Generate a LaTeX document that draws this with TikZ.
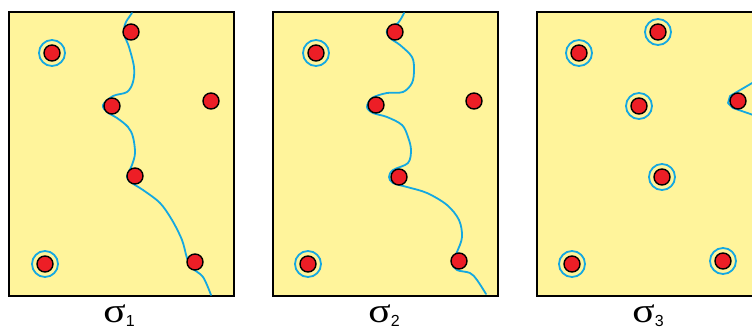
\documentclass[tikz,border=0pt]{standalone}
\usepackage{fontspec}
\setmainfont{Liberation Serif}
\newfontfamily\subfont{Liberation Sans}
\definecolor{panelfill}{RGB}{255,244,155}
\definecolor{dotred}{RGB}{237,30,38}
\definecolor{linecyan}{RGB}{20,168,225}
\tikzset{
  panel/.style={draw=black, line width=2pt, fill=panelfill},
  dot/.style={circle, minimum size=16pt, inner sep=0pt, fill=dotred, draw=black, line width=1.4pt},
  ring/.style={circle, minimum size=26pt, inner sep=0pt, draw=linecyan, line width=1.8pt},
  cut/.style={draw=linecyan, line width=1.8pt, line join=round, line cap=round},
  lab/.style={anchor=base, inner sep=0pt, font=\fontsize{32}{32}\selectfont}
}
\newcommand{\sig}[1]{\scalebox{1.3}[1.08]{σ}\raisebox{-4pt}{\subfont\fontsize{16}{16}\selectfont #1}}
\begin{document}
\begin{tikzpicture}[x=1pt,y=-1pt]
\useasboundingbox (0,0) rectangle (752,331);
\clip (0,0) rectangle (752,331);
% ---------- panel 1 ----------
\begin{scope}[xshift=9pt]
\draw[panel] (0,12) rectangle (225,296);
\draw[cut] plot[smooth, tension=0.55] coordinates {(123,13) (117,22) (115,29) (116,37) (120,47) (125,67) (124,82) (118,92) (104,96) (94,105) (98,112) (108,118) (119,127) (124,137) (126,153) (123,165) (118,177) (123,183) (134,190) (151,203) (163,220) (173,240) (178,258) (183,268) (194,277) (202,295)};
\node[dot] (p1a) at (43,53) {};
\node[dot] (p1b) at (122,32) {};
\node[dot] (p1c) at (103,106) {};
\node[dot] (p1d) at (202,101) {};
\node[dot] (p1e) at (126,176) {};
\node[dot] (p1f) at (36,264) {};
\node[dot] (p1g) at (186,262) {};
\node[ring] (r1a) at (p1a) {};
\node[ring] (r1f) at (p1f) {};
\node[lab] (l1) at (110,322) {\sig{1}};
\end{scope}
% ---------- panel 2 ----------
\begin{scope}[xshift=273pt]
\draw[panel] (0,12) rectangle (225,296);
\draw[cut] plot[smooth, tension=0.55] coordinates {(131,13) (125,23) (114,30) (117,38) (127,45) (139,57) (141,70) (139,83) (130,92) (114,93) (99,98) (94,107) (100,113) (114,117) (129,125) (135,137) (138,150) (135,163) (120,170) (116,177) (120,183) (134,187) (154,193) (174,205) (186,220) (189,237) (184,252) (179,263) (184,270) (197,273) (204,280) (213,294)};
\node[dot] (p2a) at (43,53) {};
\node[dot] (p2b) at (122,32) {};
\node[dot] (p2c) at (103,105) {};
\node[dot] (p2d) at (201,101) {};
\node[dot] (p2e) at (126,177) {};
\node[dot] (p2f) at (35,264) {};
\node[dot] (p2g) at (186,261) {};
\node[ring] (r2a) at (p2a) {};
\node[ring] (r2f) at (p2f) {};
\node[lab] (l2) at (111,322) {\sig{2}};
\end{scope}
% ---------- panel 3 ----------
\begin{scope}[xshift=537pt]
\draw[panel] (0,12) rectangle (225,296);
\draw[cut] (222,79) -- (193,96) -- (191,103) -- (196,108) -- (222,117);
\node[dot] (p3a) at (42,53) {};
\node[dot] (p3b) at (121,32) {};
\node[dot] (p3c) at (102,106) {};
\node[dot] (p3d) at (201,101) {};
\node[dot] (p3e) at (125,177) {};
\node[dot] (p3f) at (35,264) {};
\node[dot] (p3g) at (186,261) {};
\node[ring] (r3a) at (p3a) {};
\node[ring] (r3b) at (p3b) {};
\node[ring] (r3c) at (p3c) {};
\node[ring] (r3e) at (p3e) {};
\node[ring] (r3f) at (p3f) {};
\node[ring] (r3g) at (p3g) {};
\node[lab] (l3) at (111,322) {\sig{3}};
\end{scope}
\end{tikzpicture}
\end{document}
